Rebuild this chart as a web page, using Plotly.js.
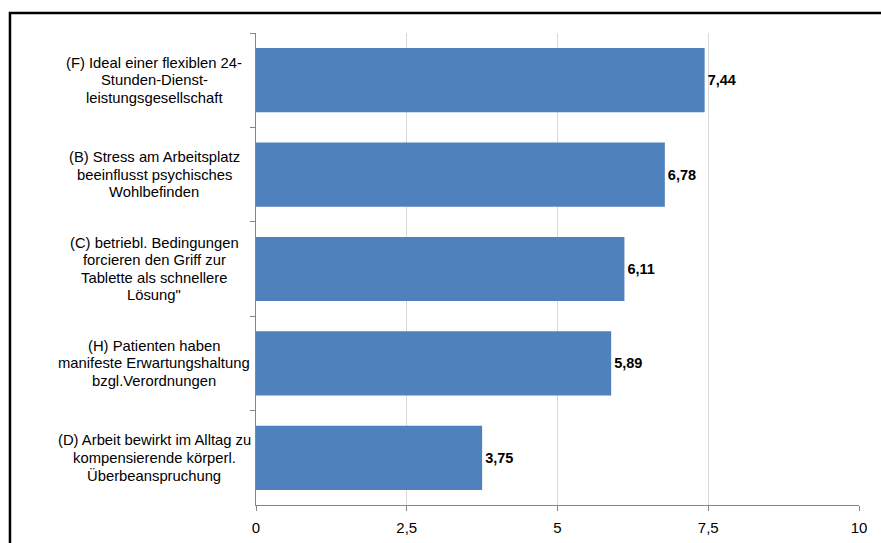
<!DOCTYPE html>
<html>
<head>
<meta charset="utf-8">
<script src="https://cdn.plot.ly/plotly-3.0.1.min.js"></script>
<style>html,body{margin:0;padding:0;background:#fff;}#chart{width:881px;height:543px;}</style>
</head>
<body>
<div id="chart"></div>
<script>
var categories = ["F", "B", "C", "H", "D"];
var labels = [
  ["(F) Ideal einer flexiblen 24-", "Stunden-Dienst-", "leistungsgesellschaft"],
  ["(B) Stress am Arbeitsplatz", "beeinflusst psychisches", "Wohlbefinden"],
  ["(C) betriebl. Bedingungen", "forcieren den Griff zur", "Tablette als schnellere", "Lösung\""],
  ["(H) Patienten haben", "manifeste Erwartungshaltung", "bzgl.Verordnungen"],
  ["(D) Arbeit bewirkt im Alltag zu", "kompensierende körperl.", "Überbeanspruchung"]
];
var values = [7.44, 6.78, 6.11, 5.89, 3.75];
var tickVals = [0, 2.5, 5, 7.5, 10];

var FONT = "Liberation Sans, Arial, sans-serif";

var trace = {
  type: "bar",
  orientation: "h",
  x: values,
  y: categories,
  marker: {color: "#4F81BD"},
  width: 0.68,
  texttemplate: "<b>%{x:.2f}</b>",
  textposition: "outside",
  cliponaxis: false,
  textfont: {family: FONT, size: 14.5, color: "#000"},
  hoverinfo: "none"
};

var annotations = [];
var lineH = 17.5;
categories.forEach(function(c, i) {
  var lines = labels[i];
  var n = lines.length;
  lines.forEach(function(t, j) {
    annotations.push({
      xref: "paper", yref: "y",
      x: -0.169, y: c,
      xanchor: "center", yanchor: "middle",
      yshift: ((n - 1) / 2 - j) * lineH,
      text: t,
      showarrow: false,
      align: "center",
      font: {family: FONT, size: 14.8, color: "#000"}
    });
  });
});

var layout = {
  width: 881, height: 543,
  margin: {l: 256, r: 22, t: 33, b: 38},
  paper_bgcolor: "#fff", plot_bgcolor: "#fff",
  separators: ",.",
  showlegend: false,
  bargap: 0.32,
  xaxis: {
    range: [0, 10],
    tickvals: tickVals,
    tickformat: ".1~f",
    showgrid: true, gridcolor: "#d9d9d9", gridwidth: 1,
    zeroline: false,
    showline: true, linecolor: "#868686", linewidth: 1,
    ticks: "outside", ticklen: 5, tickcolor: "#868686",
    ticklabelstandoff: 4,
    tickfont: {family: FONT, size: 15, color: "#000"},
    fixedrange: true
  },
  yaxis: {
    type: "category",
    categoryorder: "array",
    categoryarray: categories,
    autorange: "reversed",
    showticklabels: false,
    showgrid: false, zeroline: false,
    showline: true, linecolor: "#868686", linewidth: 1,
    ticks: "outside", ticklen: 5, tickcolor: "#868686",
    tickson: "boundaries",
    fixedrange: true
  },
  annotations: annotations,
  shapes: [{
    type: "rect", xref: "paper", yref: "paper",
    x0: -0.408, x1: 1.2, y0: -0.3, y1: 1.0424,
    line: {color: "#000", width: 2.5},
    fillcolor: "rgba(0,0,0,0)",
    layer: "above"
  }]
};

Plotly.newPlot("chart", [trace], layout, {displayModeBar: false, staticPlot: true});
</script>
</body>
</html>
